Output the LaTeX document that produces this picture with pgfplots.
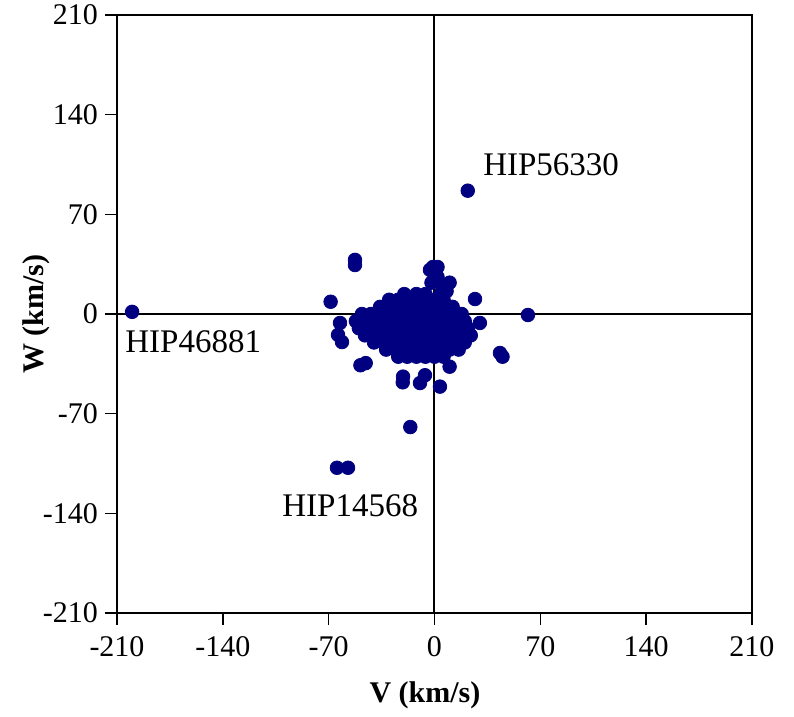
\documentclass[border=0pt]{standalone}
\usepackage{pgfplots}
\pgfplotsset{compat=1.18}
\usepackage{fontspec}
\setmainfont{Liberation Serif}
\definecolor{navyd}{RGB}{0,0,128}
\begin{document}
\begin{tikzpicture}
\begin{axis}[
  scale only axis, width=317.5pt, height=299pt,
  xmin=-210, xmax=210, ymin=-210, ymax=210,
  xtick={-210,-140,-70,0,70,140,210},
  ytick={-210,-140,-70,0,70,140,210},
  tick align=outside, major tick length=6pt,
  xtick pos=bottom, ytick pos=left,
  axis line style={line width=1.3pt},
  tick style={line width=0.8pt, black},
  /pgf/number format/assume math mode=true,
  ticklabel style={font=\fontsize{15}{17}\selectfont},
  xticklabel style={yshift=-2pt},
  xlabel={\textbf{V (km/s)}}, ylabel={\textbf{W (km/s)}},
  label style={font=\fontsize{15}{17}\selectfont},
  xlabel style={at={(axis description cs:0.485,0)}, anchor=center, yshift=-41pt},
  ylabel style={at={(axis description cs:0,0.5)}, anchor=center, yshift=40.5pt},
  clip=false,
]
\draw[black, line width=1pt] (axis cs:0,-210) -- (axis cs:0,210);
\draw[black, line width=1pt] (axis cs:-210,0) -- (axis cs:210,0);
\addplot[only marks, mark=*, mark size=3.4pt, color=navyd, mark options={draw=navyd, fill=navyd}] coordinates {
(-200,1.5) (22,86.6) (-16,-79.4) (-64.5,-108) (-57.2,-108)
(-52.6,34.4) (-52.6,38) (-68.7,8.6) (-1,33) (2,33) (-3,31) (-2,22) (26.8,10.5) (61.8,-0.7) (30,-6.3)
(43.3,-27.4) (45,-30) (-49,-36) (-45.5,-34.5) (-20.8,-44) (-21,-48) (-9.6,-48.5) (-6.3,-43)
(3.6,-51) (10,-37) (-62.5,-6.3) (-63.8,-14.7) (-61.2,-19.7)
(-30,10) (-24,10) (-18,10) (-12,10) (-6,10) (0,10) (6,10)
(-20,14) (-12,14) (-6,14) (4,14) (8,16) (5,20) (10,22) (2,26)
(-36,5) (-30,5) (-24,5) (-18,5) (-12,5) (-6,5) (0,5) (6,5) (12,5)
(-48,0) (-42,0) (-36,0) (-30,0) (-24,0) (-18,0) (-12,0) (-6,0) (0,0) (6,0) (12,0) (18,0)
(-52,-5) (-46,-5) (-40,-5) (-34,-5) (-28,-5) (-22,-5) (-16,-5) (-10,-5) (-4,-5) (2,-5) (8,-5) (14,-5) (20,-5)
(-50,-10) (-44,-10) (-38,-10) (-32,-10) (-26,-10) (-20,-10) (-14,-10) (-8,-10) (-2,-10) (4,-10) (10,-10) (16,-10) (22,-10)
(-46,-15) (-40,-15) (-34,-15) (-28,-15) (-22,-15) (-16,-15) (-10,-15) (-4,-15) (2,-15) (8,-15) (14,-15) (20,-15) (24,-15)
(-40,-20) (-34,-20) (-28,-20) (-22,-20) (-16,-20) (-10,-20) (-4,-20) (2,-20) (8,-20) (14,-20) (20,-20)
(-32,-25) (-26,-25) (-20,-25) (-14,-25) (-8,-25) (-2,-25) (4,-25) (10,-25) (16,-25)
(-24,-30) (-18,-30) (-12,-30) (-6,-30) (0,-30) (6,-30)
};
\node[anchor=west, inner sep=0pt, font=\fontsize{16.5}{18}\selectfont] at (axis cs:32,104.6) {HIP56330};
\node[anchor=west, inner sep=0pt, font=\fontsize{16.5}{18}\selectfont] at (axis cs:-204.7,-19.7) {HIP46881};
\node[anchor=west, inner sep=0pt, font=\fontsize{16.5}{18}\selectfont] at (axis cs:-100.9,-134.8) {HIP14568};
\end{axis}
\pgfresetboundingbox
\path[use as bounding box] (-58.5pt,-52pt) rectangle (338.5pt,306.5pt);
\end{tikzpicture}
\end{document}
